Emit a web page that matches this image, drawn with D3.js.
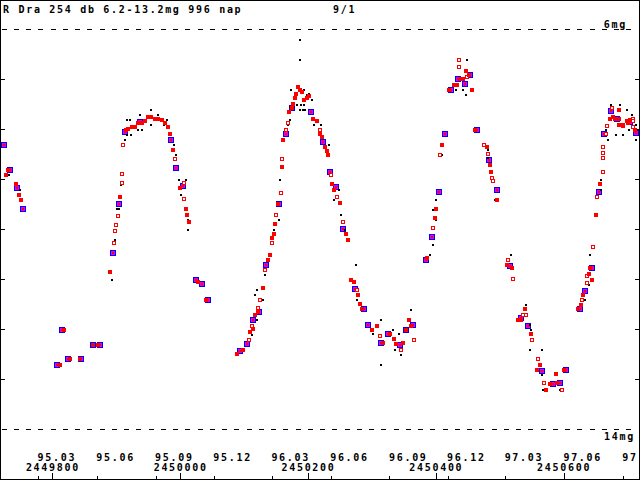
<!DOCTYPE html>
<html><head><meta charset="utf-8">
<script src="https://cdn.jsdelivr.net/npm/d3@7"></script>
<style>
html,body{margin:0;padding:0;background:#fff;}
svg{display:block;}
text{font-family:"DejaVu Sans Mono",monospace;font-weight:bold;font-size:10px;letter-spacing:1.7px;fill:#000;}
</style>
</head><body>
<svg id="c" width="640" height="480"></svg>
<script>
// ---- data (JD, magnitude) ----
const titleText = "R Dra 254 db 6.2-13.2mg 996 nap";
const dateText = "9/1";
const magTicks = [7, 8, 9, 10, 11, 12, 13];
const magLimits = [6, 14];
const magLimitLabels = ["6mg", "14mg"];
const monthTickJD = [2449777.5, 2449869.5, 2449961.5, 2450052.5, 2450143.5, 2450235.5, 2450327.5, 2450418.5, 2450508.5, 2450600.5, 2450692.5];
const monthTickLabels = ["95.03", "95.06", "95.09", "95.12", "96.03", "96.06", "96.09", "96.12", "97.03", "97.06", "97"];
const jdTicks = [2449800, 2450000, 2450200, 2450400, 2450600];

const blackDots = [
[2449732,8.91],[2449749,9.22],[2449893,11.02],[2449898,10.22],[2449901,9.61],[2449905,9.61],[2449907,9.12],[2449914,8.22],[2449954,7.62],[2449916,7.82],[2449921,7.82],[2449937,7.72],[2449965,7.72],[2449979,7.82],[2449916,8.12],[2449923,8.12],[2449934,8.02],[2449941,8.02],[2449954,7.92],[2449974,7.92],[2449990,8.32],[2449993,8.52],[2449998,9.02],[2450009,9.02],[2450001,9.32],[2450012,9.82],[2450012,10.02],
[2450109,12.22],[2450112,12.12],[2450120,11.82],[2450129,11.41],[2450117,11.32],[2450120,11.21],[2450133,10.92],[2450147,10.02],[2450154,9.82],[2450156,9.02],[2450168,7.92],[2450172,7.82],[2450172,7.55],[2450183,7.52],[2450189,7.52],[2450194,7.52],[2450188,7.62],[2450192,7.62],[2450196,7.62],[2450173,7.22],[2450193,7.22],[2450198,7.32],[2450201,7.30],[2450206,7.42],[2450187,6.22],[2450188,6.62],
[2450210,7.92],[2450221,7.92],[2450233,8.32],[2450248,9.22],[2450241,9.42],[2450252,9.72],[2450258,10.02],[2450275,10.72],[2450276,11.42],[2450361,11.62],[2450315,11.82],[2450302,12.11],[2450315,12.71],[2450333,12.02],[2450342,12.11],[2450336,12.42],[2450345,12.52],
[2450391,10.52],[2450395,10.31],[2450401,9.82],[2450396,9.62],[2450401,9.42],[2450410,8.52],[2450449,6.62],[2450431,7.22],[2450442,7.22],[2450447,7.32],[2450481,8.42],[2450482,8.58],[2450490,9.02],[2450493,9.42],[2450518,10.52],[2450519,11.02],[2450541,11.52],[2450547,11.92],[2450549,12.02],[2450547,12.42],[2450566,12.42],[2450566,12.92],[2450592,13.11],[2450568,13.22],[2450594,13.22],
[2450633,11.41],[2450639,11.12],[2450641,10.52],[2450659,9.22],[2450659,9.02],[2450670,8.22],[2450667,8.02],[2450674,7.52],[2450689,7.52],[2450699,7.62],[2450707,7.72],[2450714,7.92],[2450703,8.02],[2450682,8.12],[2450693,8.12],[2450714,8.22]
];

const redFilled = [
[2449731,8.81],[2449727,8.91],[2449743,9.11],[2449748,9.31],[2449751,9.41],[2449818,12.01],[2449812,12.71],[2449828,12.61],[2449843,12.61],[2449864,12.31],[2449871,12.31],[2449890,10.87],[2449906,9.35],
[2449915,8.02],[2449919,7.99],[2449924,7.95],[2449929,7.95],[2449934,7.89],[2449940,7.89],[2449945,7.85],[2449950,7.75],[2449955,7.75],[2449961,7.79],[2449966,7.79],[2449971,7.82],[2449976,7.89],[2449981,7.95],
[2449984,8.11],[2449989,8.41],[2450000,9.17],[2450009,9.61],[2450011,9.71],[2450014,9.87],[2450028,11.06],[2450041,11.41],
[2450089,12.50],[2450098,12.41],[2450109,12.05],[2450114,11.99],[2450117,11.72],[2450121,11.65],[2450129,11.17],[2450137,10.61],[2450140,10.51],[2450144,10.17],[2450147,10.09],[2450149,9.90],[2450153,9.49],[2450159,8.75],[2450161,8.21],
[2450171,7.65],[2450175,7.59],[2450177,7.50],[2450180,7.39],[2450182,7.29],[2450184,7.15],[2450188,7.22],[2450191,7.26],[2450194,7.42],[2450198,7.39],[2450202,7.35],
[2450208,7.79],[2450214,7.83],[2450219,8.10],[2450222,8.15],[2450227,8.37],[2450229,8.45],[2450231,8.52],[2450238,9.11],[2450241,9.21],[2450250,9.47],[2450259,10.11],[2450262,10.21],[2450267,11.01],[2450272,11.05],[2450278,11.31],[2450281,11.50],[2450285,11.60],
[2450300,12.01],[2450308,11.95],[2450317,12.27],[2450328,12.09],[2450335,12.20],[2450338,12.29],[2450348,12.27],[2450353,12.01],[2450361,11.93],[2450358,11.81],
[2450387,10.57],[2450399,9.79],[2450401,9.61],[2450410,8.31],[2450447,6.85],[2450452,6.91],[2450438,7.01],[2450443,7.01],[2450429,7.11],[2450433,7.11],[2450420,7.21],[2450456,7.21],
[2450461,8.01],[2450480,8.37],[2450485,8.71],[2450486,8.87],[2450495,9.41],[2450512,10.71],[2450520,10.77],[2450539,11.61],[2450529,11.81],[2450533,11.81],[2450549,12.11],[2450563,12.71],[2450558,12.81],[2450588,12.90],[2450601,12.81],[2450579,13.11],[2450589,13.07],[2450572,13.21],
[2450622,11.61],[2450628,11.51],[2450631,11.31],[2450640,10.89],[2450645,11.01],[2450642,10.77],[2450650,9.71],[2450657,9.09],[2450672,7.79],[2450677,7.77],[2450687,7.61],[2450681,7.80],[2450687,7.80],[2450686,7.91],[2450693,7.91],[2450699,7.85],[2450704,7.82],[2450701,7.89],[2450712,8.02]
];

const redOpen = [
[2449897,10.29],[2449898,10.04],[2449900,9.93],[2449902,9.73],[2449909,9.07],[2449909,8.89],[2449911,8.31],[2449992,8.61],[2450006,9.07],[2450006,9.39],
[2450107,12.21],[2450112,11.95],[2450121,11.57],[2450125,11.41],[2450133,10.81],[2450143,10.29],[2450150,9.71],[2450157,9.29],[2450160,8.60],[2450166,8.02],[2450168,7.87],
[2450218,8.01],[2450236,8.91],[2450246,9.35],[2450254,9.87],[2450276,11.22],[2450312,12.14],[2450346,12.41],[2450366,12.21],
[2450396,9.97],[2450406,8.51],[2450436,6.61],[2450436,6.77],[2450449,6.95],[2450476,8.31],[2450481,8.49],[2450488,8.97],[2450490,9.04],[2450513,10.61],[2450521,11.00],[2450536,11.71],[2450541,11.71],[2450551,12.21],[2450560,12.61],[2450570,13.07],[2450597,13.21],
[2450629,11.41],[2450636,11.07],[2450637,10.95],[2450646,10.37],[2450653,9.37],[2450661,8.85],[2450661,8.57],[2450662,8.47],[2450662,8.35],[2450667,8.09],[2450668,7.94],[2450676,7.59],[2450708,7.81],[2450709,7.85],[2450693,7.94],[2450709,7.97]
];

const blueSq = [
[2449725,8.31],[2449734,8.81],[2449745,9.17],[2449754,9.61],[2449815,12.01],[2449807,12.71],[2449825,12.61],[2449845,12.61],[2449864,12.31],[2449875,12.31],[2449895,10.47],[2449905,9.49],[2449914,8.05],[2449937,7.86],[2449985,8.21],[2449994,8.77],[2450004,9.14],[2450025,11.01],[2450034,11.11],[2450044,11.41],
[2450094,12.45],[2450105,12.30],[2450114,11.82],[2450124,11.65],[2450135,10.71],[2450155,9.49],[2450165,8.11],[2450175,7.59],[2450205,7.65],[2450224,8.27],[2450235,8.85],[2450244,9.15],[2450254,9.99],[2450274,11.19],[2450287,11.59],[2450294,11.91],[2450315,12.27],[2450325,12.11],[2450344,12.31],[2450354,12.01],[2450365,11.91],
[2450385,10.62],[2450394,10.15],[2450405,9.25],[2450415,8.11],[2450454,6.91],[2450434,6.99],[2450445,7.09],[2450424,7.21],[2450465,8.01],[2450484,8.62],[2450495,9.21],[2450516,10.74],[2450534,11.77],[2450545,11.95],[2450566,12.85],[2450604,12.81],[2450584,13.11],[2450595,13.07],
[2450625,11.61],[2450634,11.24],[2450644,10.77],[2450655,9.25],[2450664,8.09],[2450674,7.64],[2450684,7.79],[2450704,7.86],[2450714,8.07]
];

// ---- chart ----
const W = 640, H = 480;
const svg = d3.select("#c");
svg.append("rect").attr("width", W).attr("height", H).attr("fill", "#fff");

const x = d3.scaleLinear().domain([2449718, 2450718]).range([0, 639]);
const y = d3.scaleLinear().domain(magLimits).range([29, 429]);
const px = d => Math.round(x(d[0]));
const py = d => Math.round(y(d[1]));

// dashed magnitude limit lines
svg.selectAll("line.lim").data(magLimits).join("line")
  .attr("class", "lim")
  .attr("x1", 1.5).attr("x2", 639)
  .attr("y1", d => y(d) + 0.5).attr("y2", d => y(d) + 0.5)
  .attr("stroke", "#000").attr("stroke-width", 1)
  .attr("stroke-dasharray", "5 7.25")
  .attr("shape-rendering", "crispEdges");

// magnitude limit labels
svg.append("text").attr("x", 627).attr("y", y(magLimits[0]) - 1)
  .attr("text-anchor", "end").text(magLimitLabels[0]);
svg.append("text").attr("x", 635).attr("y", y(magLimits[1]) + 11)
  .attr("text-anchor", "end").text(magLimitLabels[1]);

// y ticks on both sides
const yl = svg.append("g").attr("transform", "translate(0,0)")
  .call(d3.axisRight(y).tickValues(magTicks).tickSize(5).tickFormat(""));
const yr = svg.append("g").attr("transform", "translate(640,0)")
  .call(d3.axisLeft(y).tickValues(magTicks).tickSize(5).tickFormat(""));
[yl, yr].forEach(g => { g.select(".domain").remove(); g.selectAll("line").attr("shape-rendering", "crispEdges"); });

// x month ticks and labels
const xm = svg.append("g").attr("transform", "translate(0,480)")
  .call(d3.axisTop(x).tickValues(monthTickJD).tickSize(4).tickPadding(15)
    .tickFormat((d, i) => monthTickLabels[i]));
xm.select(".domain").remove();
xm.selectAll("text").attr("text-anchor", "start").attr("dx", -1).attr("dy", 0);
xm.selectAll("line").attr("shape-rendering", "crispEdges");

// x JD ticks and labels
const xj = svg.append("g").attr("transform", "translate(0,480)")
  .call(d3.axisTop(x).tickValues(jdTicks).tickSize(7).tickPadding(2)
    .tickFormat(d3.format("d")));
xj.select(".domain").remove();
xj.selectAll("text").attr("dy", 0);
xj.selectAll("line").attr("shape-rendering", "crispEdges");

// markers
const gm = svg.append("g").attr("shape-rendering", "crispEdges");

const gb = gm.append("g");
gb.selectAll("rect.bo").data(blueSq).join("rect").attr("class", "bo")
  .attr("x", d => px(d) - 3).attr("y", d => py(d) - 3).attr("width", 6).attr("height", 6).attr("fill", "#0000ff");
gb.selectAll("rect.bi").data(blueSq).join("rect").attr("class", "bi")
  .attr("x", d => px(d) - 2).attr("y", d => py(d) - 2).attr("width", 4).attr("height", 4).attr("fill", "#e000e0");
gb.selectAll("rect.bc").data(blueSq).join("rect").attr("class", "bc")
  .attr("x", d => px(d) - 1).attr("y", d => py(d) - 1).attr("width", 2).attr("height", 2).attr("fill", "#ff0000");

gm.append("g").selectAll("rect").data(blackDots).join("rect")
  .attr("x", d => px(d) - 1).attr("y", d => py(d) - 1).attr("width", 2).attr("height", 2).attr("fill", "#000");

gm.append("g").selectAll("rect").data(redOpen).join("rect")
  .attr("x", d => px(d) - 1.5).attr("y", d => py(d) - 1.5).attr("width", 3).attr("height", 3)
  .attr("fill", "#fff").attr("stroke", "#ff0000").attr("stroke-width", 1);

gm.append("g").selectAll("rect").data(redFilled).join("rect")
  .attr("x", d => px(d) - 2).attr("y", d => py(d) - 2).attr("width", 4).attr("height", 4).attr("fill", "#ff0000");

// frame
svg.append("rect").attr("x", 0.5).attr("y", 0.5).attr("width", 639).attr("height", 479)
  .attr("fill", "none").attr("stroke", "#000").attr("shape-rendering", "crispEdges");

// title
svg.append("text").attr("x", 3).attr("y", 13).text(titleText);
svg.append("text").attr("x", 333).attr("y", 13).text(dateText);
</script>
</body></html>
